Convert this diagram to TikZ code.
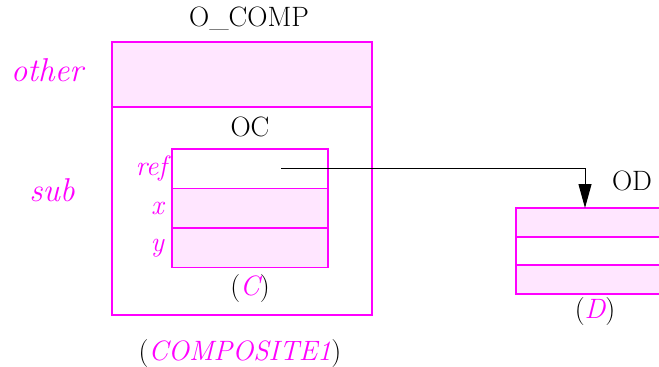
\documentclass[tikz,border=0pt]{standalone}
\definecolor{magline}{HTML}{FF00FF}
\definecolor{magfill}{HTML}{FFE6FF}
\usetikzlibrary{arrows.meta, positioning, calc, backgrounds}
\tikzset{
  cell/.style={
    draw=magline, line width=1.3pt, outer sep=0pt, inner sep=0pt,
    minimum width=156pt, minimum height=39.5pt
  },
  objname/.style={font=\rmfamily\fontsize{28}{33}\selectfont, text=black, inner sep=2pt},
  role/.style={font=\rmfamily\fontsize{33}{38}\selectfont\itshape, text=magline, inner sep=2pt},
  lbl/.style={font=\rmfamily\fontsize{28}{33}\selectfont\itshape, text=magline, inner sep=3pt},
  ptr/.style={-{Triangle[length=24pt,width=13pt]}, line width=1pt, black},
}

\begin{document}
\begin{tikzpicture}[x=1pt, y=-1pt]
  \useasboundingbox (0,0) rectangle (659,367);
  % Composite object
  \node[cell, minimum width=260pt, minimum height=65pt, anchor=north west] (other) at (112,42) {};
  \node[cell, minimum width=260pt, minimum height=208pt, below=0pt of other] (sub) {};
  \node[objname] (ocomp) at (249,19) {O\_COMP};
  \node[role] (otherlbl) at (47,70) {other};
  \node[role] (sublbl) at (52,190) {sub};
  \node[objname] (oc) at (250,127) {OC};

  % Object C
  \node[cell, anchor=north west] (cref) at (172,149) {};
  \node[cell, below=0pt of cref] (cx) {};
  \node[cell, below=0pt of cx] (cy) {};
  \node[lbl, left=2pt of cref] (reflbl) {ref};
  \node[lbl, left=5pt of cx] (xlbl) {x};
  \node[lbl, left=5pt of cy] (ylbl) {y};
  \node[objname] (ctype) at (250,289) {(\textcolor{magline}{\itshape C})};
  \node[objname] (comptype) at (240,354) {(\textcolor{magline}{\itshape COMPOSITE1})};

  % Object D
  \node[cell, minimum width=160pt, minimum height=29pt, anchor=north west] (d1) at (516,208) {};
  \node[cell, minimum width=160pt, minimum height=28pt, below=0pt of d1] (d2) {};
  \node[cell, minimum width=160pt, minimum height=29pt, below=0pt of d2] (d3) {};
  \node[objname] (od) at (632,181) {OD};
  \node[objname, fill=white] (dtype) at (595,312) {(\textcolor{magline}{\itshape D})};

  % Fills behind the borders
  \begin{scope}[on background layer]
    \fill[magfill] (other.north west) rectangle (other.south east);
    \fill[magfill] (cx.north west) rectangle (cy.south east);
    \fill[magfill] (d1.north west) rectangle (d1.south east);
    \fill[magfill] (d3.north west) rectangle (d3.south east);
  \end{scope}

  % Reference
  \coordinate (refptr) at ($(cref.west)+(109,0)$);
  \coordinate (odin) at ($(d1.north west)+(69,0)$);
  \draw[ptr] (refptr) -| (odin);
\end{tikzpicture}
\end{document}
